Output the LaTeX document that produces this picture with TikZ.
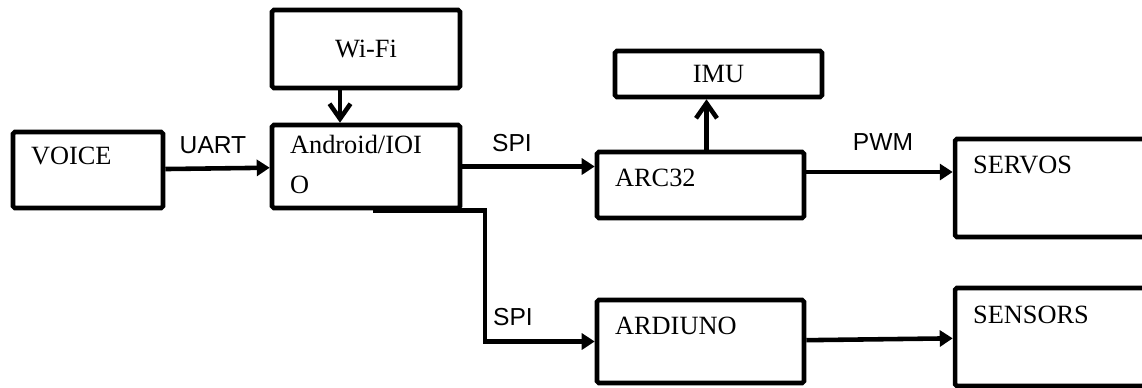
\documentclass[tikz,border=0pt]{standalone}
\usepackage{fontspec}
\setmainfont{Liberation Serif}
\newfontfamily\lblfont{Liberation Sans}
\usetikzlibrary{arrows.meta}

\begin{document}
\begin{tikzpicture}[x=0.02cm, y=-0.02cm,
      blk/.style={draw, line width=2.6pt, rounded corners=1pt, inner sep=0pt,
                  font=\fontsize{15}{23}\selectfont},
      btxt/.style={anchor=base west, inner sep=0pt,
                   font=\fontsize{15}{23}\selectfont},
      lbl/.style={inner sep=0pt, font=\lblfont\fontsize{14}{17}\selectfont},
      arr/.style={-{Triangle[length=0.26cm, width=0.32cm]}, line width=2.6pt},
      barb/.style={-{Straight Barb[length=0.3cm, width=0.42cm]}, line width=2.6pt}
  ]
    \useasboundingbox (0,0) rectangle (1142,387);
    \clip (0,0) rectangle (1142,387);
    % blocks
    \node[blk, minimum width=3.0cm, minimum height=1.52cm] (voice) at (88,170) {};
    \node[blk, minimum width=3.76cm, minimum height=1.56cm] (wifi) at (366,49) {Wi-Fi};
    \node[blk, minimum width=3.76cm, minimum height=1.66cm] (android) at (366,166.5) {};
    \node[blk, minimum width=4.14cm, minimum height=0.92cm] (imu) at (718.5,74) {IMU};
    \node[blk, minimum width=4.14cm, minimum height=1.32cm] (arc32) at (700.5,185) {};
    \node[blk, minimum width=4.14cm, minimum height=1.66cm] (arduino) at (700.5,341.5) {};
    \node[blk, minimum width=4.14cm, minimum height=1.96cm] (servos) at (1058.5,188) {};
    \node[blk, minimum width=4.14cm, minimum height=1.96cm] (sensors) at (1058.5,337) {};
    % block texts
    \node[btxt] (voicetxt) at ([shift={(20,35)}]voice.north west) {VOICE};
    \node[btxt, anchor=north west, align=left] (androidtxt)
      at ([shift={(20,12)}]android.north west) {Android/IOI\\O};
    \node[btxt] (arc32txt) at ([shift={(20,37)}]arc32.north west) {ARC32};
    \node[btxt] (arduinotxt) at ([shift={(20,37)}]arduino.north west) {ARDIUNO};
    \node[btxt] (servostxt) at ([shift={(20,37)}]servos.north west) {SERVOS};
    \node[btxt] (sensorstxt) at ([shift={(20,38)}]sensors.north west) {SENSORS};
    % bus labels
    \node[lbl] (uart) at (213,145) {UART};
    \node[lbl] (spiup) at (512,143) {SPI};
    \node[lbl] (pwm) at (883,142) {PWM};
    \node[lbl] (spidown) at (513,317) {SPI};
    % links
    \draw[arr] (voice) -- (android);
    \draw[barb] ([xshift=-0.52cm]wifi.south) -- ([xshift=-0.52cm]android.north);
    \draw[arr] (android.east) -- (android.east -| arc32.west);
    \draw[barb] ([xshift=0.12cm]arc32.north) -- ([xshift=0.12cm]arc32.north |- imu.south);
    \draw[arr] ([yshift=0.26cm]arc32.east) -- ([yshift=0.26cm]arc32.east -| servos.west);
    \draw[arr] ([xshift=0.14cm]android.south) -- ++(112,0) |- (arduino.west);
    \draw[arr] (arduino) -- (sensors);
  \end{tikzpicture}
\end{document}
